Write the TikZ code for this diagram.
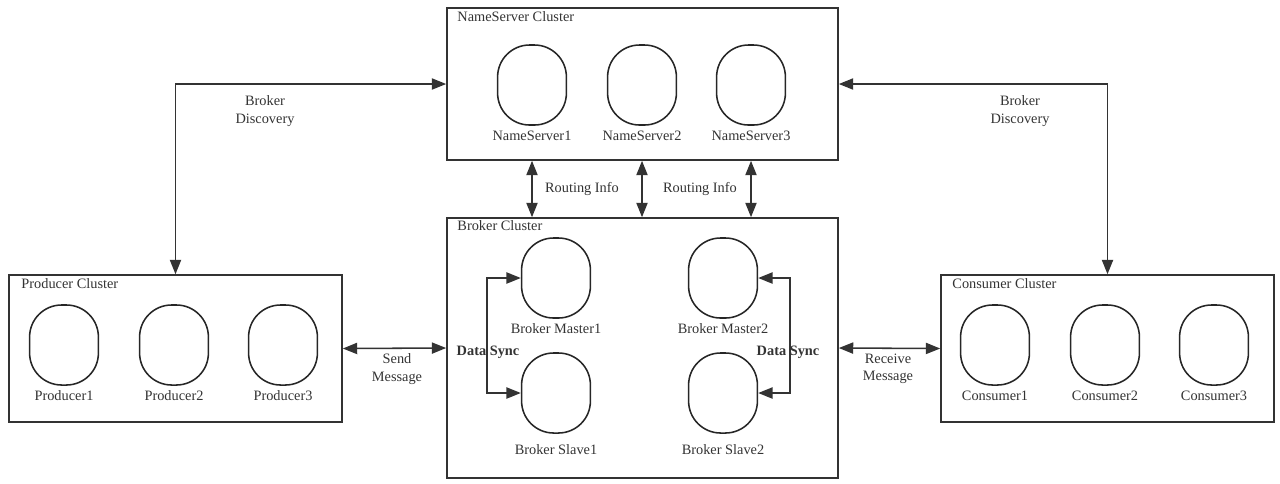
\documentclass[tikz,border=0pt]{standalone}
\usepackage{fontspec}
\setmainfont{Liberation Serif}
\usetikzlibrary{arrows.meta,positioning}

\begin{document}
\begin{tikzpicture}[x=0.025cm,y=-0.025cm,
    font=\fontsize{10.2}{12.2}\selectfont,text=black!80,
    >={Triangle[length=3.6mm,width=2.8mm]},
    cluster/.style={draw=black!80,line width=1.1pt,inner sep=0pt},
    wide/.style={cluster,minimum width=9.775cm},
    side/.style={cluster,minimum width=8.325cm,minimum height=3.675cm},
    member/.style={draw=black!85,line width=1.1pt,rounded corners=0.8cm,
      minimum width=1.72cm,minimum height=2cm,inner sep=0pt,label distance=1pt},
    title/.style={anchor=west,inner sep=0pt},
    link/.style={draw=black!80,line width=1.1pt,<->},
    note/.style={align=center,inner sep=0pt}]
        \useasboundingbox (0,0) rectangle (1280,483);

        \node[wide,minimum height=3.8cm] (nsc) at (642.5,84) {};
        \node[title] at ([shift={(11,9)}]nsc.north west) {NameServer Cluster};
        \node[member,label=below:NameServer1] (ns1) at (532,85) {};
        \node[member,label=below:NameServer2] (ns2) at (642,85) {};
        \node[member,label=below:NameServer3] (ns3) at (751,85) {};

        \node[wide,minimum height=6.5cm] (bc) at (642.5,348) {};
        \node[title] at ([shift={(11,8)}]bc.north west) {Broker Cluster};
        \node[member,label=below:Broker Master1] (bm1) at (556,278) {};
        \node[member,label={[label distance=4pt]below:Broker Slave1}] (bs1) at (556,393) {};
        \node[member,label=below:Broker Master2] (bm2) at (723,278) {};
        \node[member,label={[label distance=4pt]below:Broker Slave2}] (bs2) at (723,393) {};

        \node[side] (pc) at (175.5,348.5) {};
        \node[title] at ([shift={(13,9)}]pc.north west) {Producer Cluster};
        \node[member,label=below:Producer1] (p1) at (64,345) {};
        \node[member,label=below:Producer2] (p2) at (174,345) {};
        \node[member,label=below:Producer3] (p3) at (283,345) {};

        \node[side] (cc) at (1107.5,348.5) {};
        \node[title] at ([shift={(12,9)}]cc.north west) {Consumer Cluster};
        \node[member,label=below:Consumer1] (c1) at (995,345) {};
        \node[member,label=below:Consumer2] (c2) at (1105,345) {};
        \node[member,label=below:Consumer3] (c3) at (1214,345) {};

        \draw[link] (nsc.west) -| (pc.north);
        \draw[link] (nsc.east) -| (cc.north);
        \draw[link] (pc.east) -- (bc.west);
        \draw[link] (cc.west) -- (bc.east);
        \draw[link] (nsc.south -| ns1) -- (bc.north -| ns1);
        \draw[link] (nsc.south -| ns2) -- (bc.north -| ns2);
        \draw[link] (nsc.south -| ns3) -- (bc.north -| ns3);
        \draw[link] (bm1.west) -- ++(-34,0) |- (bs1.west);
        \draw[link] (bm2.east) -- ++(32,0) |- (bs2.east);

        \node[note] (bd1) at (265,111) {Broker\\Discovery};
        \node[note] (bd2) at (1020,111) {Broker\\Discovery};
        \node[note] (sm) at (397,369) {Send\\Message};
        \node[note] (rm) at (888,369) {Receive\\Message};
        \node[note] (ri1) at (582,189) {Routing Info};
        \node[note] (ri2) at (700,189) {Routing Info};
        \node[note] (ds1) at (488,352) {\bfseries Data Sync};
        \node[note] (ds2) at (788,352) {\bfseries Data Sync};
      \end{tikzpicture}
\end{document}
